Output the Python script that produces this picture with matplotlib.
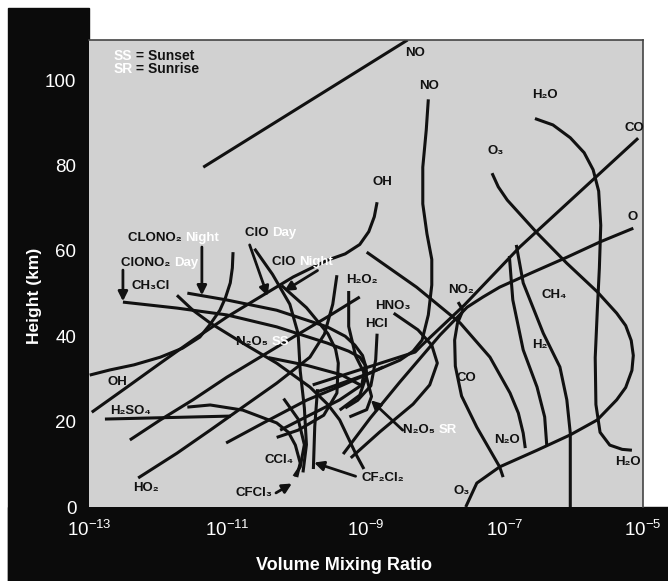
import numpy as np
import matplotlib
matplotlib.use("Agg")
import matplotlib.pyplot as plt
from matplotlib.patches import Rectangle
from matplotlib.ticker import NullLocator

plt.rcParams['font.family'] = ['Liberation Sans', 'DejaVu Sans']
plt.rcParams['mathtext.fontset'] = 'custom'
plt.rcParams['mathtext.rm'] = 'Liberation Sans'
plt.rcParams['mathtext.bf'] = 'Liberation Sans:bold'

# profiles: log10(volume mixing ratio), height (km)
no_up_log = [-11.35, -8.4]
no_up_km = [79.6, 109.4]
no_log = [-8.10, -8.13, -8.18, -8.18, -8.12, -8.05, -8.05, -8.10, -8.19, -8.32, -8.51, -8.94, -9.23, -9.7]
no_km = [95.5, 88.3, 79.6, 71.0, 64.0, 58.0, 52.0, 45.0, 39.1, 36.5, 34.4, 31.4, 29.7, 27.0]
h2o_log = [-6.56, -6.30, -6.05, -5.85, -5.72, -5.64, -5.61, -5.63, -5.66, -5.69, -5.68, -5.62, -5.48, -5.30, -5.16]
h2o_km = [91.0, 89.5, 86.5, 83.0, 79.0, 74.0, 66.0, 56.0, 46.0, 35.0, 24.0, 17.5, 14.5, 13.5, 13.3]
co_log = [-5.07, -6.78, -7.58, -8.20, -8.29, -9.77]
co_km = [86.4, 60.9, 47.3, 37.8, 36.3, 28.6]
o_log = [-5.14, -5.62, -6.10, -6.59, -7.07, -7.31, -7.54, -7.93, -8.51, -8.94, -9.33]
o_km = [65.3, 62.1, 58.5, 55.0, 51.5, 49.2, 46.8, 40.3, 29.3, 20.8, 12.4]
o3_log = [-7.18, -7.09, -6.96, -6.53, -6.10, -5.66, -5.38, -5.25, -5.17, -5.14, -5.16, -5.25,
          -5.38, -5.66, -6.05, -6.53, -7.07, -7.40, -7.56]
o3_km = [78.2, 75.0, 71.9, 64.2, 57.1, 50.4, 45.4, 42.5, 39.0, 35.5, 32.0, 28.0,
         25.1, 20.4, 16.9, 13.3, 9.4, 5.6, 0.0]
n2o_log = [-8.99, -8.27, -7.64, -7.21, -6.92, -6.80, -6.73, -6.70]
n2o_km = [59.7, 51.5, 43.1, 35.1, 26.7, 22.0, 17.3, 13.8]
ch4_log = [-6.83, -6.73, -6.44, -6.20, -6.10, -6.05, -6.05]
ch4_km = [61.4, 52.5, 40.7, 32.8, 25.1, 17.3, 0.0]
h2_log = [-6.93, -6.88, -6.73, -6.53, -6.42, -6.39]
h2_km = [58.8, 48.5, 36.8, 28.1, 21.1, 14.5]
no2_log = [-7.67, -7.60, -7.68, -7.72, -7.71, -7.62, -7.40, -7.07, -7.02]
no2_km = [48.0, 46.1, 43.0, 39.1, 33.0, 26.0, 18.7, 9.4, 7.0]
hno3_log = [-8.60, -8.25, -8.05, -7.97, -8.08, -8.32, -8.80, -9.22]
hno3_km = [45.4, 41.5, 37.9, 33.7, 28.6, 24.1, 17.6, 11.5]
oh_up_log = [-8.84, -8.88, -8.96, -9.09, -9.30, -9.56, -10.05, -10.53, -11.01, -11.50, -11.97, -12.45, -12.96]
oh_up_km = [71.4, 68.0, 64.5, 61.5, 59.3, 57.8, 53.9, 49.2, 44.5, 39.1, 33.7, 28.1, 22.2]
oh_log = [-10.92, -10.93, -10.96, -11.03, -11.11, -11.25, -11.40, -11.65, -11.97, -12.35, -12.70, -12.99]
oh_km = [59.7, 56.0, 52.5, 49.0, 46.1, 42.8, 39.8, 37.2, 35.1, 33.3, 32.1, 30.9]
h2so4_log = [-12.77, -10.95]
h2so4_km = [20.6, 21.3]
ho2_log = [-12.29, -11.73, -11.25, -10.78, -10.29, -9.81, -9.60, -9.48, -9.42]
ho2_km = [6.8, 12.6, 18.0, 23.4, 29.0, 35.1, 40.5, 47.5, 54.3]
h2o2b_log = [-12.41, -11.97, -11.50, -11.01, -10.53, -10.05, -9.56, -9.09]
h2o2b_km = [15.7, 20.4, 25.1, 30.4, 35.1, 39.8, 44.5, 49.2]
clono2d_log = [-12.51, -11.73, -11.01, -10.29, -9.56, -9.25, -9.09, -9.00, -8.99, -9.09, -9.38]
clono2d_km = [48.0, 46.6, 45.0, 42.2, 38.4, 36.5, 35.1, 33.0, 30.9, 26.2, 22.7]
clono2n_log = [-11.58, -11.01, -10.29, -9.56, -9.30, -9.16, -9.05, -9.01, -9.06, -9.38, -9.95, -10.24]
clono2n_km = [50.1, 48.5, 46.1, 42.2, 40.0, 37.9, 35.5, 33.3, 28.6, 25.1, 20.4, 18.0]
ch3cl_log = [-11.73, -11.50, -11.25, -10.78, -10.29, -9.81, -9.55, -9.38, -9.14, -9.03]
ch3cl_km = [49.6, 46.1, 43.1, 38.4, 33.7, 28.1, 24.0, 20.4, 12.2, 8.9]
clod_log = [-10.61, -10.35, -10.10, -9.98, -9.95, -9.89, -9.86, -9.91]
clod_km = [60.5, 54.5, 47.5, 40.6, 31.9, 23.2, 14.6, 8.1]
clon_log = [-10.22, -9.86, -9.55, -9.44, -9.40, -9.42, -9.61, -9.98, -10.29]
clon_km = [51.9, 46.7, 40.6, 37.0, 33.7, 26.7, 21.5, 18.0, 16.3]
n2o5_log = [-10.41, -9.86, -9.36, -9.06]
n2o5_km = [35.0, 33.2, 31.0, 28.4]
h2o2_log = [-9.25, -9.25, -9.15, -8.99, -8.92, -8.99, -9.24]
h2o2_km = [50.6, 42.3, 35.4, 30.2, 25.9, 22.8, 21.1]
hcl_log = [-8.84, -8.86, -8.93, -9.12, -9.30]
hcl_km = [40.6, 34.5, 28.4, 25.0, 23.2]
n2o5b_log = [-11.02, -10.47, -9.86, -9.36, -8.75]
n2o5b_km = [15.0, 19.8, 25.0, 28.4, 32.8]
ccl4_log = [-11.58, -11.25, -10.78, -10.29, -10.12, -10.02, -9.95, -10.0]
ccl4_km = [23.4, 23.9, 22.7, 19.7, 17.5, 14.5, 10.3, 7.0]
cfcl3_log = [-10.19, -9.98, -9.89, -9.95, -10.04]
cfcl3_km = [25.4, 20.6, 14.6, 9.4, 7.2]
cf2cl2_log = [-9.70, -9.74, -9.76]
cf2cl2_km = [27.6, 18.9, 8.9]

curves = [
    (no_up_log, no_up_km), (no_log, no_km), (h2o_log, h2o_km), (co_log, co_km),
    (o_log, o_km), (o3_log, o3_km), (n2o_log, n2o_km), (ch4_log, ch4_km),
    (h2_log, h2_km), (no2_log, no2_km), (hno3_log, hno3_km), (oh_up_log, oh_up_km),
    (oh_log, oh_km), (h2so4_log, h2so4_km), (ho2_log, ho2_km), (h2o2b_log, h2o2b_km),
    (clono2d_log, clono2d_km), (clono2n_log, clono2n_km), (ch3cl_log, ch3cl_km),
    (clod_log, clod_km), (clon_log, clon_km), (n2o5_log, n2o5_km), (h2o2_log, h2o2_km),
    (hcl_log, hcl_km), (n2o5b_log, n2o5b_km), (ccl4_log, ccl4_km),
    (cfcl3_log, cfcl3_km), (cf2cl2_log, cf2cl2_km),
]

# arrows: (tail log, tail km, head log, head km)
arrows = [
    (-11.37, 60.9, -11.37, 49.6),   # CLONO2 Night
    (-12.51, 55.5, -12.51, 48.2),   # ClONO2 Day
    (-10.68, 61.4, -10.42, 49.4),   # ClO Day
    (-9.70, 55.4, -10.18, 50.6),    # ClO Night
    (-10.30, 3.3, -10.07, 5.5),     # CFCl3
    (-9.15, 7.2, -9.75, 10.4),      # CF2Cl2
    (-8.47, 18.0, -8.93, 25.0),     # N2O5 SR
]

# plain labels: text, log, km (left edge, vertical centre)
labels = [
    ("NO", -8.44, 106.3), ("NO", -8.23, 98.6), ("H₂O", -6.60, 96.5), ("CO", -5.27, 88.8),
    ("O₃", -7.25, 83.4), ("OH", -8.90, 76.1), ("O", -5.22, 67.9), ("NO₂", -7.82, 50.8),
    ("CH₄", -6.46, 49.6), ("H₂", -6.60, 37.9), ("CO", -7.70, 30.2), ("N₂O", -7.15, 15.7),
    ("H₂O", -5.40, 10.5), ("O₃", -7.73, 3.7), ("CH₃Cl", -12.38, 51.8), ("H₂O₂", -9.29, 53.2),
    ("HNO₃", -8.87, 47.1), ("HCl", -9.01, 42.9), ("OH", -12.73, 29.3), ("H₂SO₄", -12.70, 22.5),
    ("CCl₄", -10.46, 11.0), ("CFCl₃", -10.89, 3.3), ("CF₂Cl₂", -9.06, 6.8), ("HO₂", -12.36, 4.4),
]
# two colour labels: black part, white part, log, km
labels2 = [
    ("CLONO₂ ", "Night", -12.44, 63.0), ("ClONO₂ ", "Day", -12.54, 57.1),
    ("ClO ", "Day", -10.75, 64.2), ("ClO ", "Night", -10.36, 57.4),
    ("N₂O₅ ", "SS", -10.88, 38.7), ("N₂O₅ ", "SR", -8.47, 18.0),
]
key = [("SS", " = Sunset", -12.65, 105.6), ("SR", " = Sunrise", -12.65, 102.6)]

W, H = 668, 581
fig = plt.figure(figsize=(W / 100, H / 100), dpi=100, facecolor="white")
fig.add_artist(Rectangle((8 / W, 0), (89 - 8) / W, (H - 8) / H, transform=fig.transFigure,
                         color="#0b0b0b", zorder=-5))
fig.add_artist(Rectangle((8 / W, 0), (W - 8) / W, (H - 507) / H, transform=fig.transFigure,
                         color="#0b0b0b", zorder=-5))

ax = fig.add_axes([89 / W, (H - 507) / H, (643 - 89) / W, (507 - 40) / H])
ax.set_facecolor("#d1d1d1")
ax.set_xscale("log")
ax.set_xlim(1e-13, 1e-5)
ax.set_ylim(0, 109.4)
ax.set_xticks([1e-13, 1e-11, 1e-9, 1e-7, 1e-5])
ax.xaxis.set_minor_locator(NullLocator())
ax.set_yticks([0, 20, 40, 60, 80, 100])
ax.tick_params(length=0, colors="white", labelsize=13.5)
ax.tick_params(axis="x", pad=9)
ax.tick_params(axis="y", pad=9)
for s in ["left", "bottom"]:
    ax.spines[s].set_visible(False)
for s in ["top", "right"]:
    ax.spines[s].set_color("#444444")
    ax.spines[s].set_linewidth(1.2)

for xs, ys in curves:
    ax.plot(10 ** np.array(xs), ys, color="#111111", lw=2.2, solid_capstyle="butt",
            solid_joinstyle="round")

for x0, y0, x1, y1 in arrows:
    ax.annotate("", xy=(10 ** x1, y1), xytext=(10 ** x0, y0),
                arrowprops=dict(arrowstyle="-|>", lw=2, color="#111111", mutation_scale=14,
                                shrinkA=0, shrinkB=0))

fs = 9.5
for t, x, y in labels:
    ax.text(10 ** x, y, t, fontsize=fs, fontweight="bold", color="#111111", ha="left",
            va="center")
for b, w, x, y in labels2:
    t1 = ax.text(10 ** x, y, b, fontsize=fs, fontweight="bold", color="#111111", ha="left",
                 va="center")
    ax.annotate(w, xy=(1, 0.5), xycoords=t1, fontsize=fs, fontweight="bold", color="white",
                ha="left", va="center")
for w, b, x, y in key:
    t1 = ax.text(10 ** x, y, w, fontsize=fs + 0.5, fontweight="bold", color="white",
                 ha="left", va="center")
    ax.annotate(b, xy=(1, 0.5), xycoords=t1, fontsize=fs + 0.5, fontweight="bold",
                color="#111111", ha="left", va="center")

fig.text(344 / W, 1 - 565 / H, "Volume Mixing Ratio", color="white", fontsize=13,
         fontweight="bold", ha="center", va="center")
fig.text(34 / W, 1 - 296 / H, "Height (km)", color="white", fontsize=12.5,
         fontweight="bold", ha="center", va="center", rotation=90)

fig.savefig("out.png", dpi=100, facecolor="white")
